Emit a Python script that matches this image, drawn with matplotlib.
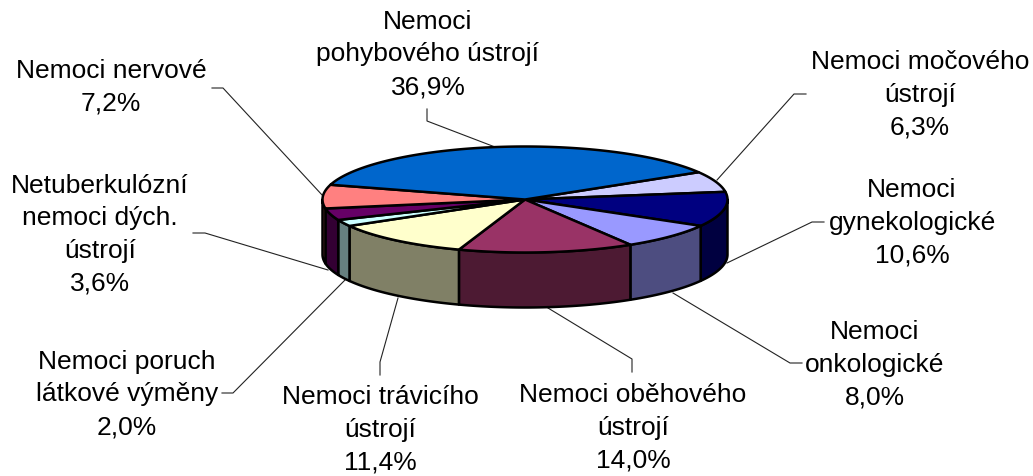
import numpy as np
import matplotlib.pyplot as plt
from matplotlib.colors import to_rgb
from matplotlib.patches import Polygon

# --- data, clockwise from the top-right edge of the big blue slice ---
labels = [
    "Nemoci močového\nústrojí\n6,3%",
    "Nemoci\ngynekologické\n10,6%",
    "Nemoci\nonkologické\n8,0%",
    "Nemoci oběhového\nústrojí\n14,0%",
    "Nemoci trávicího\nústrojí\n11,4%",
    "Nemoci poruch\nlátkové výměny\n2,0%",
    "Netuberkulózní\nnemoci dých.\nústrojí\n3,6%",
    "Nemoci nervové\n7,2%",
    "Nemoci\npohybového ústrojí\n36,9%",
]
values = [6.3, 10.6, 8.0, 14.0, 11.4, 2.0, 3.6, 7.2, 36.9]
colors = ["#CCCCFF", "#000080", "#9999FF", "#993366", "#FFFFCC",
          "#CCFFFF", "#660066", "#FF8080", "#0066CC"]

# --- layout in pixels ---
CX, CY = 525, 199.5
RX, RY = 202.5, 53
DEPTH = 55
START_ANGLE = 31
label_pos = [(920, 95), (912, 223), (875, 365), (633, 428), (380, 430),
             (127, 394.5), (100, 234.5), (111, 87), (428, 54.5)]
leaders = [
    [(806, 94), (794, 94), (717, 180)],
    [(824, 222), (812, 222), (727, 263)],
    [(802, 363), (790, 363), (673, 293)],
    [(632, 372), (632, 359), (548, 308)],
    [(380, 375), (380, 362), (398, 298)],
    [(222, 393), (233, 393), (345, 280)],
    [(193, 233), (205, 233), (328, 270)],
    [(212, 88), (223, 88), (323, 196)],
    [(427, 109), (427, 121), (495, 147)],
]

plt.rcParams["font.family"] = ["Liberation Sans", "DejaVu Sans"]

fig = plt.figure(figsize=(10.33, 4.76), dpi=100)
ax = fig.add_axes([0, 0, 1, 1])
ax.set_xlim(0, 1033)
ax.set_ylim(476, 0)
ax.axis("off")


def ellipse_xy(angles, dy=0):
    rad = np.radians(angles)
    return np.column_stack([CX + RX * np.cos(rad), CY - RY * np.sin(rad) + dy])


# slice angles run clockwise, so they go down from the start
edges = START_ANGLE - np.cumsum([0] + values) * 3.6

# front wall, only the part below the ellipse's widest line shows
for a0, a1, col in zip(edges[:-1], edges[1:], colors):
    lo, hi = max(a1, -180), min(a0, 0)
    if lo >= hi:
        continue
    arc = np.linspace(hi, lo, 60)
    pts = np.vstack([ellipse_xy(arc), ellipse_xy(arc[::-1], DEPTH)])
    dark = tuple(c * 0.5 for c in to_rgb(col))
    ax.add_patch(Polygon(pts, closed=True, facecolor=dark, edgecolor="black",
                         linewidth=1.8, joinstyle="round", zorder=2))

# top face
for a0, a1, col in zip(edges[:-1], edges[1:], colors):
    arc = np.linspace(a0, a1, 120)
    pts = np.vstack([[CX, CY], ellipse_xy(arc)])
    ax.add_patch(Polygon(pts, closed=True, facecolor=col, edgecolor="black",
                         linewidth=1.8, joinstyle="round", zorder=3))

for line in leaders:
    xs, ys = zip(*line)
    ax.plot(xs, ys, color="#222222", linewidth=0.8, zorder=1)

for text, (x, y) in zip(labels, label_pos):
    ax.text(x, y, text, ha="center", va="center", fontsize=19,
            linespacing=1.45, color="black", zorder=4)

fig.savefig("out.png", dpi=100)
